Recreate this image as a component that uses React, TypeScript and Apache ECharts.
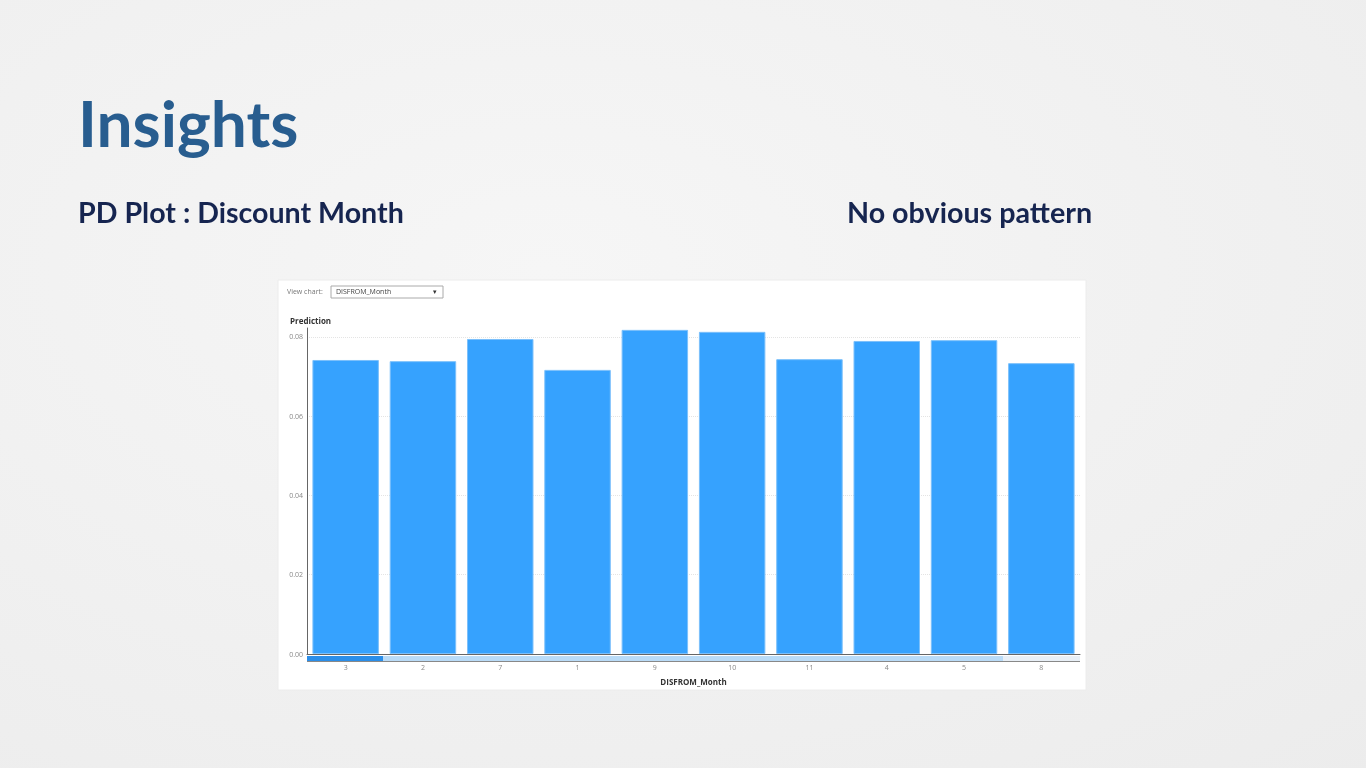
import React, { useEffect, useRef } from "react";
import * as echarts from "echarts";

const months = ["3", "2", "7", "1", "9", "10", "11", "4", "5", "8"];
const predictions = [0.0742, 0.0739, 0.0795, 0.0717, 0.0818, 0.0813, 0.0744, 0.079, 0.0792, 0.0734];
const yTicks = [0, 0.02, 0.04, 0.06, 0.08];

export default function App() {
  const ref = useRef<HTMLDivElement>(null);
  useEffect(() => {
    if (!ref.current) return;
    const chart = echarts.init(ref.current, null, { renderer: "svg" });
    const font = "Lato, 'Open Sans', sans-serif";
    const small = "'Open Sans', 'DejaVu Sans', sans-serif";
    const gridColors = yTicks.map(() => "#e4e4e4").concat(["rgba(0,0,0,0)"]);
    chart.setOption({
      animation: false,
      backgroundColor: {
        type: "radial",
        x: 0.4,
        y: 0.35,
        r: 0.9,
        colorStops: [
          { offset: 0, color: "#f6f6f6" },
          { offset: 1, color: "#ececec" },
        ],
      },
      grid: { left: 307, right: 286, top: 328, bottom: 114, containLabel: false },
      xAxis: {
        type: "category",
        data: months,
        name: "DISFROM_Month",
        nameLocation: "middle",
        nameGap: 23,
        nameTextStyle: { fontFamily: small, fontSize: 8, fontWeight: "bold", color: "#333" },
        axisLine: { show: true, lineStyle: { color: "#666", width: 1 } },
        axisTick: { show: false },
        axisLabel: { fontFamily: small, fontSize: 7, color: "#888", margin: 10 },
      },
      yAxis: {
        type: "value",
        min: 0,
        max: 0.08227,
        interval: 0.02,
        name: "Prediction",
        nameLocation: "end",
        nameGap: 4,
        nameTextStyle: { fontFamily: small, fontSize: 8, fontWeight: "bold", color: "#333", align: "left", padding: [0, 0, 0, -17] },
        axisLine: { show: true, lineStyle: { color: "#666", width: 1 } },
        axisTick: { show: false },
        axisLabel: {
          fontFamily: small,
          fontSize: 7,
          color: "#888",
          margin: 4,
          showMaxLabel: false,
          formatter: (v: number) => v.toFixed(2),
        },
        splitLine: { show: true, lineStyle: { color: gridColors, type: "dotted", width: 1 } },
      },
      series: [
        {
          type: "bar",
          data: predictions,
          barCategoryGap: "14%",
          itemStyle: { color: "#36a2fe", borderColor: "#7cc0fb", borderWidth: 1 },
        },
      ],
      graphic: [
        { type: "rect", z: -10, shape: { x: 278, y: 280, width: 808, height: 410 }, style: { fill: "#ffffff", stroke: "#ececec" } },
        { type: "text", left: 78, top: 90, style: { text: "Insights", fontFamily: font, fontSize: 64, fontWeight: "bold", fill: "#285d8f" } },
        { type: "text", left: 78, top: 197, style: { text: "PD Plot : Discount Month", fontFamily: font, fontSize: 28.6, fontWeight: "bold", fill: "#162550" } },
        { type: "text", left: 847, top: 197, style: { text: "No obvious pattern", fontFamily: font, fontSize: 28.7, fontWeight: "bold", fill: "#162550" } },
        { type: "text", left: 287, top: 288, style: { text: "View chart:", fontFamily: small, fontSize: 7, fill: "#777" } },
        { type: "rect", shape: { x: 331, y: 286, width: 112, height: 12 }, style: { fill: "#fff", stroke: "#aaa" } },
        { type: "text", left: 336, top: 288, style: { text: "DISFROM_Month", fontFamily: small, fontSize: 7, fill: "#444" } },
        { type: "text", left: 433, top: 288, style: { text: "▾", fontFamily: small, fontSize: 7, fill: "#333" } },
        { type: "rect", shape: { x: 307, y: 656, width: 773, height: 5 }, style: { fill: "#e8eff6" } },
        { type: "rect", shape: { x: 383, y: 656, width: 620, height: 5 }, style: { fill: "#b9dbf7" } },
        { type: "rect", shape: { x: 307, y: 656, width: 76, height: 5 }, style: { fill: "#2b8ee9" } },
        { type: "line", shape: { x1: 307, y1: 661.5, x2: 1080, y2: 661.5 }, style: { stroke: "#888", lineWidth: 1 } },
      ],
    });
    return () => chart.dispose();
  }, []);
  return <div ref={ref} style={{ position: "fixed", left: 0, top: 0, width: 1366, height: 768 }} />;
}
